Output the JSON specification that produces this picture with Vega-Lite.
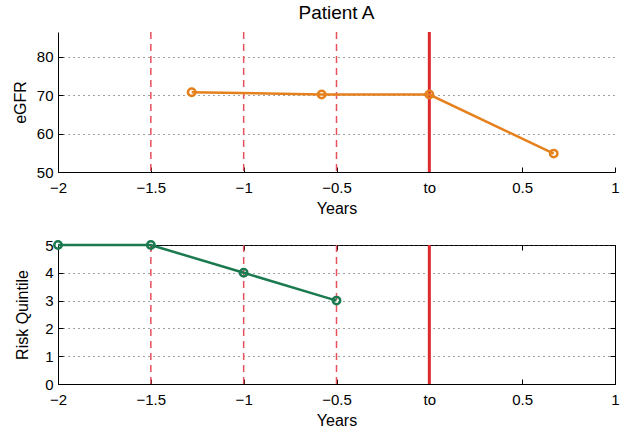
{
  "$schema": "https://vega.github.io/schema/vega-lite/v6.json",
  "padding": {"left": 12, "top": 3, "right": 5, "bottom": 5},
  "spacing": 19,
  "datasets": {
    "egfr": [
      {"years": -1.28, "egfr": 70.8},
      {"years": -0.58, "egfr": 70.2},
      {"years": 0.0, "egfr": 70.2},
      {"years": 0.67, "egfr": 54.8}
    ],
    "risk": [
      {"years": -2.0, "quintile": 5},
      {"years": -1.5, "quintile": 5},
      {"years": -1.0, "quintile": 4},
      {"years": -0.5, "quintile": 3}
    ],
    "prior": [
      {"years": -1.5},
      {"years": -1.0},
      {"years": -0.5}
    ],
    "index": [
      {"years": 0}
    ]
  },
  "config": {
    "font": "Liberation Sans",
    "axis": {
      "labelFont": "Liberation Sans",
      "titleFont": "Liberation Sans",
      "labelFontSize": 15,
      "titleFontSize": 16,
      "titleFontWeight": "normal",
      "labelColor": "#000000",
      "titleColor": "#000000",
      "domainColor": "#000000",
      "tickColor": "#000000",
      "ticks": true,
      "tickSize": -5,
      "labelPadding": 10,
      "labelFlush": false,
      "gridColor": "#444444",
      "gridDash": [1, 4],
      "gridWidth": 1
    },
    "title": {"font": "Liberation Sans", "fontSize": 19, "fontWeight": "normal", "color": "#000000", "offset": 8}
  },
  "vconcat": [
    {
      "width": 557,
      "height": 140,
      "title": "Patient A",
      "view": {"stroke": null},
      "layer": [
        {
          "data": {"name": "prior"},
          "mark": {"type": "rule", "color": "#e8505c", "strokeDash": [7, 5], "strokeWidth": 1.5},
          "encoding": {"x": {"field": "years", "type": "quantitative"}}
        },
        {
          "data": {"name": "index"},
          "mark": {"type": "rule", "color": "#e0282e", "strokeWidth": 3},
          "encoding": {"x": {"field": "years", "type": "quantitative"}}
        },
        {
          "data": {"name": "egfr"},
          "mark": {"type": "line", "color": "#e5801c", "strokeWidth": 2.5, "point": {"filled": false, "fill": "white", "fillOpacity": 0, "size": 55, "strokeWidth": 2.5, "color": "#e5801c"}},
          "encoding": {
            "x": {
              "field": "years", "type": "quantitative",
              "scale": {"domain": [-2, 1], "nice": false, "zero": false},
              "axis": {"title": "Years", "values": [-2, -1.5, -1, -0.5, 0, 0.5, 1], "grid": false, "format": "~g", "labelExpr": "datum.value == 0 ? 'to' : datum.label", "labelPadding": 13, "titlePadding": 5}
            },
            "y": {
              "field": "egfr", "type": "quantitative",
              "scale": {"domain": [50, 86.5], "nice": false, "zero": false},
              "axis": {"title": "eGFR", "values": [50, 60, 70, 80], "grid": true, "titlePadding": 8}
            }
          }
        }
      ]
    },
    {
      "width": 557,
      "height": 139,
      "view": {"stroke": "#000000", "strokeWidth": 1},
      "resolve": {"axis": {"x": "independent", "y": "independent"}},
      "layer": [
        {
          "data": {"name": "prior"},
          "mark": {"type": "rule", "color": "#e8505c", "strokeDash": [7, 5], "strokeWidth": 1.5},
          "encoding": {"x": {"field": "years", "type": "quantitative", "axis": null}}
        },
        {
          "data": {"name": "index"},
          "mark": {"type": "rule", "color": "#e0282e", "strokeWidth": 3},
          "encoding": {"x": {"field": "years", "type": "quantitative", "axis": null}}
        },
        {
          "data": {"name": "risk"},
          "mark": {"type": "point", "opacity": 0},
          "encoding": {
            "x": {
              "field": "years", "type": "quantitative",
              "axis": {"orient": "top", "title": null, "labels": false, "domain": false, "grid": false, "values": [-2, -1.5, -1, -0.5, 0, 0.5, 1]}
            },
            "y": {
              "field": "quintile", "type": "quantitative",
              "axis": {"orient": "right", "title": null, "labels": false, "domain": false, "grid": false, "values": [0, 1, 2, 3, 4, 5]}
            }
          }
        },
        {
          "data": {"name": "risk"},
          "mark": {"type": "line", "color": "#1b7a4f", "strokeWidth": 2.5, "point": {"filled": false, "fill": "white", "fillOpacity": 0, "size": 55, "strokeWidth": 2.5, "color": "#1b7a4f"}},
          "encoding": {
            "x": {
              "field": "years", "type": "quantitative",
              "scale": {"domain": [-2, 1], "nice": false, "zero": false},
              "axis": {"orient": "bottom", "title": "Years", "values": [-2, -1.5, -1, -0.5, 0, 0.5, 1], "grid": false, "format": "~g", "labelExpr": "datum.value == 0 ? 'to' : datum.label", "labelPadding": 13, "titlePadding": 5}
            },
            "y": {
              "field": "quintile", "type": "quantitative",
              "scale": {"domain": [0, 5], "nice": false},
              "axis": {"orient": "left", "title": "Risk Quintile", "values": [0, 1, 2, 3, 4, 5], "grid": true, "titlePadding": 14}
            }
          }
        }
      ]
    }
  ]
}
